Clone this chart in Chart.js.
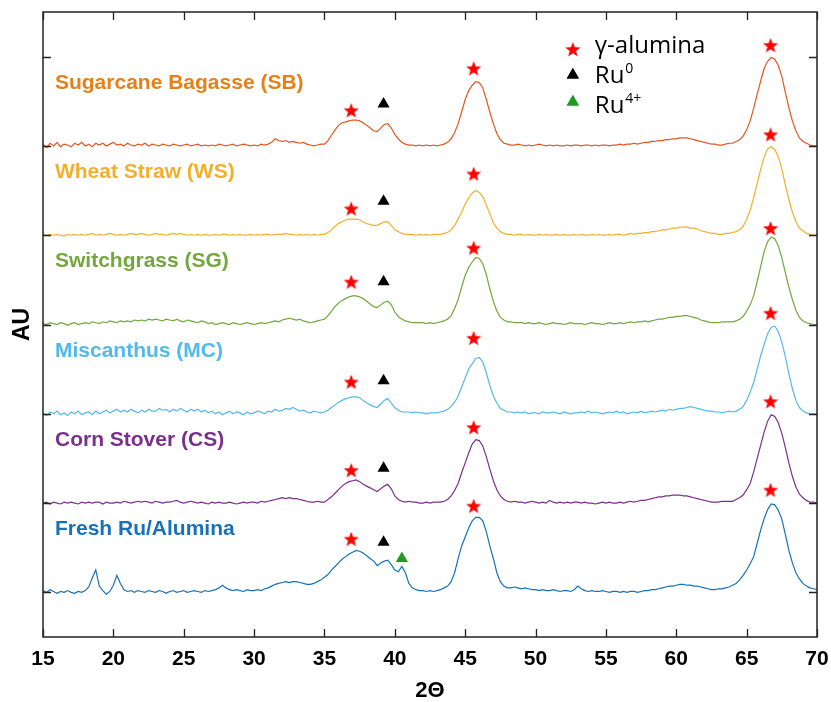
<!DOCTYPE html>
<html>
<head>
<meta charset="utf-8">
<script src="https://cdn.jsdelivr.net/npm/chart.js@4/dist/chart.umd.min.js"></script>
<style>
html,body{margin:0;padding:0;background:#fff;}
#wrap{width:831px;height:702px;position:relative;}
</style>
</head>
<body>
<div id="wrap"><canvas id="c"></canvas></div>
<script>
// ---- 2θ positions (degrees) ----
const angles = [
15,15.25,15.5,15.75,16,16.25,16.5,16.75,17,17.25,17.5,17.75,18,18.25,18.5,18.75,19,19.25,19.5,19.75,
20,20.25,20.5,20.75,21,21.25,21.5,21.75,22,22.25,22.5,22.75,23,23.25,23.5,23.75,24,24.25,24.5,24.75,
25,25.25,25.5,25.75,26,26.25,26.5,26.75,27,27.25,27.5,27.75,28,28.25,28.5,28.75,29,29.25,29.5,29.75,
30,30.25,30.5,30.75,31,31.25,31.5,31.75,32,32.25,32.5,32.75,33,33.25,33.5,33.75,34,34.25,34.5,34.75,
35,35.25,35.5,35.75,36,36.25,36.5,36.75,37,37.25,37.5,37.75,38,38.25,38.5,38.75,39,39.25,39.5,39.75,
40,40.25,40.5,40.75,41,41.25,41.5,41.75,42,42.25,42.5,42.75,43,43.25,43.5,43.75,44,44.25,44.5,44.75,
45,45.25,45.5,45.75,46,46.25,46.5,46.75,47,47.25,47.5,47.75,48,48.25,48.5,48.75,49,49.25,49.5,49.75,
50,50.25,50.5,50.75,51,51.25,51.5,51.75,52,52.25,52.5,52.75,53,53.25,53.5,53.75,54,54.25,54.5,54.75,
55,55.25,55.5,55.75,56,56.25,56.5,56.75,57,57.25,57.5,57.75,58,58.25,58.5,58.75,59,59.25,59.5,59.75,
60,60.25,60.5,60.75,61,61.25,61.5,61.75,62,62.25,62.5,62.75,63,63.25,63.5,63.75,64,64.25,64.5,64.75,
65,65.25,65.5,65.75,66,66.25,66.5,66.75,67,67.25,67.5,67.75,68,68.25,68.5,68.75,69,69.25,69.5,69.75,
70];

// ---- intensities (relative AU x100, above each pattern's own baseline) ----
const freshRuAlumina = [
2,0,3,1, -1,1,0,2, 0,-1,1,0, 2,6,16,25, 7,2,-2,1,
8,19,10,3, 1,2,0,2, 1,0,2,1, 0,2,1,-1, 1,2,0,1,
2,0,1,2, 1,0,2,1, 2,3,5,8, 5,3,2,3, 2,1,3,2,
2,3,2,4, 5,7,9,10, 11,12,11,12, 12,11,10,9, 9,10,12,14,
17,20,25,29, 33,37,40,43, 45,47,46,44, 41,38,35,30, 33,35,36,31,
25,23,29,22, 10,5,3,2, 2,1,2,1, 2,3,5,7, 12,22,38,52,
62,72,80,84, 84,80,68,52, 38,22,12,7, 5,5,6,5, 4,5,4,3,
3,2,3,2, 2,3,2,1, 2,2,1,3, 7,4,2,1, 2,1,1,2,
1,0,1,1, 0,1,0,1, 1,0,1,2, 2,3,3,4, 5,6,7,7,
8,9,9,8, 8,7,7,6, 5,4,3,3, 4,4,5,6, 8,10,14,19,
25,32,40,55, 70,83,93,99, 98,92,82,65, 47,33,22,15, 10,7,5,4,
3];
const cornStover = [
0,1,-1,1, 0,-1,1,0, 1,0,-1,1, 0,1,0,1, 1,-1,1,0,
0,1,0,2, 1,0,1,2, 1,2,1,0, 2,1,0,1, 1,2,3,1,
0,1,2,1, 0,1,0,-1, 1,0,1,0, 0,1,0,-1, 0,1,0,1,
1,0,2,1, 2,3,4,5, 6,5,6,5, 5,4,3,2, 1,1,2,1,
1,4,7,11, 15,19,22,24, 25,26,24,21, 19,17,15,13, 16,19,21,16,
8,4,2,1, 2,1,1,0, 0,1,0,1, 1,1,2,4, 8,14,22,34,
45,56,66,71, 70,64,52,38, 25,15,8,4, 2,1,2,1, 1,0,1,2,
1,0,1,0, 3,1,0,1, 0,1,0,1, 1,0,1,0, 0,-1,0,1,
0,1,0,0, 1,0,1,2, 1,2,3,3, 4,5,6,7, 7,8,8,9,
9,9,8,8, 7,6,5,4, 3,2,1,1, 1,2,2,2, 2,4,6,9,
15,22,35,50, 65,80,92,99, 97,90,78,62, 45,30,18,10, 6,3,1,1,
0];
const miscanthus = [
1,-2,2,0, 3,-1,1,-2, 2,0,3,-1, 1,2,-1,3, 0,2,4,1,
3,5,2,4, 2,5,3,1, 4,2,5,3, 3,6,4,5, 2,5,3,6,
4,2,5,3, 5,2,4,1, 3,0,2,-1, 1,3,0,2, 1,-1,2,0,
1,3,2,0, 3,2,5,3, 4,6,5,7, 5,3,4,2, 1,3,2,1,
2,4,7,10, 13,15,17,18, 19,19,18,15, 12,10,8,7, 11,15,17,12,
7,4,2,2, 2,1,2,1, 1,0,1,1, 1,2,3,5, 8,13,20,30,
40,50,56,62, 63,58,46,32, 20,12,6,4, 2,2,1,2, 1,2,0,1,
1,0,2,1, 1,2,1,0, 2,1,0,1, 1,2,1,3, 1,2,1,0,
1,2,1,3, 1,2,0,1, 2,1,3,1, 2,3,2,3, 4,3,5,4,
5,6,6,7, 8,7,6,5, 4,3,3,2, 2,1,2,3, 2,3,5,8,
15,24,35,50, 65,78,90,97, 98,92,80,64, 45,28,15,7, 3,1,0,0,
0];
const switchgrass = [
1,0,2,1, 0,2,1,-1, 1,2,0,1, 2,1,3,2, 1,3,2,4,
3,2,4,3, 4,3,5,4, 5,4,6,5, 6,5,4,6, 5,4,6,4,
3,5,4,3, 2,4,3,1, 2,0,1,2, 1,0,2,1, 0,1,2,1,
0,1,2,1, 2,3,4,3, 5,6,7,6, 5,6,4,3, 2,3,4,5,
6,10,15,20, 24,27,29,31, 32,32,31,29, 26,23,20,19, 22,25,26,22,
14,9,6,4, 3,2,2,2, 2,1,2,1, 2,3,4,6, 10,18,28,42,
55,64,70,75, 74,68,56,40, 26,15,8,5, 3,3,2,2, 2,1,2,1,
1,2,1,0, 1,2,1,1, 0,1,2,1, 1,1,0,1, 2,1,1,0,
1,2,1,1, 2,1,2,3, 2,3,3,4, 3,4,5,6, 6,7,8,8,
9,9,10,10, 9,8,7,5, 4,3,2,2, 2,3,3,3, 3,4,6,9,
15,22,32,48, 65,82,93,98, 96,88,75,58, 42,28,16,8, 4,2,1,0,
0];
const wheatStraw = [
1,0,1,0, 1,0,-1,1, 0,1,0,1, 0,1,2,0, 1,0,1,2,
1,0,1,0, 1,2,1,1, 2,1,0,1, 2,1,1,0, 1,2,1,2,
1,0,1,0, 1,0,1,0, 0,1,0,1, 1,0,1,0, 1,0,0,1,
0,1,0,1, 1,0,1,1, 1,2,1,1, 0,1,0,1, 0,1,0,1,
1,3,6,10, 13,15,17,18, 18,18,17,15, 13,12,11,11, 13,15,15,11,
6,4,2,1, 1,1,0,1, 0,1,0,1, 1,1,2,3, 6,11,18,26,
35,42,47,50, 48,43,34,24, 14,8,4,2, 1,1,0,1, 1,0,1,0,
0,1,0,1, 0,0,1,0, 1,0,0,1, 0,1,0,0, 1,0,1,0,
0,1,0,1, 1,0,1,2, 1,2,2,3, 3,4,4,5, 6,6,7,8,
8,9,9,9, 8,8,7,5, 4,3,2,2, 1,1,2,2, 3,4,6,10,
18,28,42,58, 74,88,97,99, 96,88,74,56, 40,26,15,8, 5,2,1,0,
0];
const sugarcaneBagasse = [
2,-2,3,0, 4,-1,2,1, -1,3,1,4, 0,2,-1,3, 1,3,0,2,
4,1,2,0, 3,1,0,2, 1,3,0,2, 1,0,2,1, 0,2,1,0,
1,2,0,1, 2,0,1,0, 1,0,2,1, 0,1,2,0, 1,2,1,0,
1,0,2,1, 2,4,8,6, 5,6,4,5, 4,3,4,2, 1,0,1,2,
2,6,12,18, 23,26,27,28, 29,29,28,26, 23,20,17,16, 20,24,25,20,
13,8,4,2, 1,1,0,1, 0,1,0,1, 0,1,2,4, 8,15,25,38,
52,62,68,72, 71,65,52,38, 25,14,7,3, 2,1,1,2, 1,0,1,0,
1,2,1,0, 1,0,1,0, 0,1,0,1, 1,0,1,1, 0,1,0,1,
1,0,1,1, 2,1,2,2, 3,2,3,4, 4,5,5,6, 6,7,7,8,
8,9,9,9, 8,7,6,5, 4,3,2,2, 1,1,2,3, 3,5,7,11,
18,28,42,58, 73,87,95,99, 97,90,78,60, 43,28,17,9, 5,3,1,0,
0];

// ---- series, bottom to top ----
const seriesNames = ['Fresh Ru/Alumina','Corn Stover (CS)','Miscanthus (MC)','Switchgrass (SG)','Wheat Straw (WS)','Sugarcane Bagasse (SB)'];
const seriesValues = [freshRuAlumina, cornStover, miscanthus, switchgrass, wheatStraw, sugarcaneBagasse];
const offsets = [0,100,200,300,400,500];

// ---- phase markers ----
const aluminaPeaks = [36.9, 45.6, 66.7];
const aluminaMarkY = [[59,96,114],[36,84,113],[35,84,112],[47,85,107],[29,68,112],[39,86,112]];
const ru0Peak = 39.2;
const ru0MarkY = [56,39,37,48,38,47];
const ru4Peak = 40.5;
const ru4MarkY = 38; // fresh sample only

// ---- axis ticks ----
const xTicks = [15,20,25,30,35,40,45,50,55,60,65,70];
const yTicks = [0,100,200,300,400,500,600];

const lineColors  = ['#1771BA','#7B2F8C','#52B9EA','#72A83B','#F2B02A','#E2561F'];
const labelColors = ['#1771BA','#7B2F8C','#52B9EA','#72A83B','#F2B02A','#E5801A'];

function makeStar(size, color){
  const c = document.createElement('canvas');
  c.width = c.height = size;
  const g = c.getContext('2d');
  const R = size/2, r = R*0.42;
  g.beginPath();
  for (let i=0;i<10;i++){
    const a = -Math.PI/2 + i*Math.PI/5;
    const rad = i%2 ? r : R;
    g.lineTo(R + rad*Math.cos(a), R + rad*Math.sin(a));
  }
  g.closePath(); g.fillStyle = color; g.fill();
  return c;
}
const starImg = makeStar(16, '#FF0000');

const datasets = [];
seriesValues.forEach((vals, s) => {
  datasets.push({
    type:'line', label: seriesNames[s],
    data: angles.map((a,i) => ({x:a, y:offsets[s] + vals[i]})),
    borderColor: lineColors[s], borderWidth: 1.2, pointRadius: 0, tension: 0, fill:false, order: 2
  });
});
const starData = [];
aluminaMarkY.forEach((ys, s) => ys.forEach((v,k) => starData.push({x: aluminaPeaks[k], y: offsets[s] + v})));
datasets.push({type:'scatter', label:'γ-alumina', data: starData, pointStyle: starImg, pointRadius: 8, order: 1});
datasets.push({type:'scatter', label:'Ru0', data: ru0MarkY.map((v,s)=>({x:ru0Peak, y:offsets[s]+v})),
  pointStyle:'triangle', pointRadius:7, backgroundColor:'#000', borderColor:'#000', borderWidth:0, order:1});
datasets.push({type:'scatter', label:'Ru4+', data: [{x:ru4Peak, y:offsets[0]+ru4MarkY}],
  pointStyle:'triangle', pointRadius:7, backgroundColor:'#1E9A1E', borderColor:'#1E9A1E', borderWidth:0, order:1});

const framePlugin = {
  id:'frameTicks',
  afterDatasetsDraw(chart){
    const {ctx, chartArea:a, scales:{x,y}} = chart;
    ctx.save();
    ctx.strokeStyle = '#222'; ctx.lineWidth = 1.5;
    ctx.strokeRect(a.left, a.top, a.right-a.left, a.bottom-a.top);
    ctx.lineWidth = 1.3;
    const L = 8;
    ctx.beginPath();
    xTicks.forEach(v => {
      const px = Math.round(x.getPixelForValue(v)) + 0.5;
      ctx.moveTo(px, a.bottom); ctx.lineTo(px, a.bottom - L);
      ctx.moveTo(px, a.top); ctx.lineTo(px, a.top + L);
    });
    yTicks.forEach(v => {
      const py = Math.round(y.getPixelForValue(v)) + 0.5;
      ctx.moveTo(a.left, py); ctx.lineTo(a.left + L, py);
      ctx.moveTo(a.right, py); ctx.lineTo(a.right - L, py);
    });
    ctx.stroke();
    // sample labels
    ctx.font = 'bold 21px "Liberation Sans", Arial, sans-serif';
    ctx.textAlign = 'left'; ctx.textBaseline = 'alphabetic';
    seriesNames.forEach((n,s) => {
      ctx.fillStyle = labelColors[s];
      ctx.fillText(n, x.getPixelForValue(15.85), y.getPixelForValue(offsets[s] + 64));
    });
    // legend
    const lx = x.getPixelForValue(52.65), tx = lx + 22;
    const big = '24px "Open Sans", sans-serif', small = '14px "Open Sans", sans-serif';
    ctx.fillStyle = '#000';
    ctx.drawImage(starImg, lx - 8, 50 - 8);
    ctx.font = big; ctx.fillText('γ-alumina', tx, 53);
    Chart.helpers.drawPoint(ctx, {pointStyle:'triangle', radius:7, rotation:0, borderWidth:0}, lx, 75);
    ctx.fillStyle = '#000'; ctx.fill();
    ctx.fillText('Ru', tx, 83);
    let w = ctx.measureText('Ru').width;
    ctx.font = small; ctx.fillText('0', tx + w + 1, 73);
    ctx.fillStyle = '#1E9A1E';
    Chart.helpers.drawPoint(ctx, {pointStyle:'triangle', radius:7, rotation:0, borderWidth:0}, lx, 102);
    ctx.fill();
    ctx.fillStyle = '#000';
    ctx.font = big; ctx.fillText('Ru', tx, 113);
    ctx.font = small; ctx.fillText('4+', tx + w + 1, 103);
    ctx.restore();
  }
};

new Chart(document.getElementById('c'), {
  type:'line',
  data:{ datasets },
  options:{
    responsive:true, maintainAspectRatio:false, animation:false, events:[],
    layout:{ padding:{ left:0, right:14, top:12, bottom:0 } },
    plugins:{ legend:{display:false}, tooltip:{enabled:false} },
    scales:{
      x:{
        type:'linear', min:15, max:70,
        afterBuildTicks: s => { s.ticks = xTicks.map(v => ({value:v})); },
        afterFit: s => { s.height = 65; s.paddingLeft = 0; s.paddingRight = 0; },
        grid:{ display:false, drawTicks:false },
        border:{ display:false },
        ticks:{ color:'#000', padding:10, font:{ family:'"Liberation Sans", Arial, sans-serif', size:21, weight:'bold' } },
        title:{ display:true, text:'2Θ', color:'#000', padding:{top:0,bottom:0},
          font:{ family:'"Liberation Sans", Arial, sans-serif', size:22, weight:'bold', lineHeight:1 } }
      },
      y:{
        type:'linear', min:-50, max:650,
        afterBuildTicks: s => { s.ticks = yTicks.map(v => ({value:v})); },
        afterFit: s => { s.width = 43; s.paddingTop = 0; s.paddingBottom = 0; },
        grid:{ display:false, drawTicks:false },
        border:{ display:false },
        ticks:{ display:false },
        title:{ display:true, text:'AU', color:'#000', padding:{top:9,bottom:0},
          font:{ family:'"Liberation Sans", Arial, sans-serif', size:23, weight:'bold', lineHeight:1.2 } }
      }
    }
  },
  plugins:[framePlugin]
});
</script>
</body>
</html>
